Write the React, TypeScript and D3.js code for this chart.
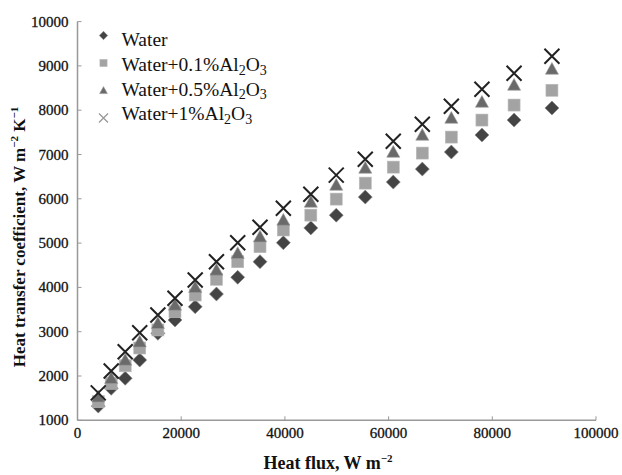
import React from "react";
import * as d3 from "d3";

const heatFlux = [4000, 6500, 9200, 12000, 15500, 18800, 22700, 26800, 30900, 35200, 39700, 45000, 49900, 55500, 60900, 66500, 72100, 78000, 84200, 91500];
const water = [1320, 1722, 1948, 2361, 2964, 3264, 3564, 3850, 4228, 4580, 5009, 5343, 5631, 6038, 6377, 6670, 7056, 7440, 7777, 8050];
const water01 = [1420, 1835, 2230, 2632, 3040, 3451, 3828, 4183, 4580, 4919, 5296, 5631, 5993, 6354, 6715, 7032, 7393, 7777, 8116, 8450];
const water05 = [1533, 1948, 2361, 2774, 3190, 3603, 4002, 4393, 4770, 5144, 5521, 5928, 6311, 6695, 7056, 7440, 7823, 8185, 8569, 8930];
const water1 = [1620, 2113, 2549, 2977, 3377, 3754, 4167, 4580, 5009, 5357, 5786, 6104, 6534, 6891, 7298, 7682, 8088, 8472, 8833, 9217];

const xTicks = [0, 20000, 40000, 60000, 80000, 100000];
const yTicks = [1000, 2000, 3000, 4000, 5000, 6000, 7000, 8000, 9000, 10000];

const W = 622, H = 475;
const M = { left: 77.5, right: 596, top: 18, bottom: 420.3 };
const FONT = "'Liberation Serif', 'Times New Roman', serif";

const x = d3.scaleLinear().domain([0, 100000]).range([M.left, M.right]);
const y = d3.scaleLinear().domain([1000, 10000]).range([M.bottom, M.bottom - 9 * 44.3]);

type Kind = "diamond" | "square" | "triangle" | "cross";

function Marker({ kind, cx, cy, s = 1 }: { kind: Kind; cx: number; cy: number; s?: number }) {
  if (kind === "diamond") {
    const r = 7 * s;
    return <path d={`M${cx},${cy - r}L${cx + r},${cy}L${cx},${cy + r}L${cx - r},${cy}Z`} fill="#444" stroke="#888" strokeWidth={0.6} />;
  }
  if (kind === "square") {
    const r = 6 * s;
    return <rect x={cx - r} y={cy - r} width={2 * r} height={2 * r} fill="#a3a3a3" stroke="#bbb" strokeWidth={0.6} />;
  }
  if (kind === "triangle") {
    const r = 6.5 * s;
    return <path d={`M${cx},${cy - r}L${cx + r},${cy + r * 0.8}L${cx - r},${cy + r * 0.8}Z`} fill="#6a6a6a" stroke="#999" strokeWidth={0.6} />;
  }
  const r = 7.5 * s;
  return (
    <path d={`M${cx - r},${cy - r}L${cx + r},${cy + r}M${cx - r},${cy + r}L${cx + r},${cy - r}`} stroke={s < 1 ? "#999" : "#222"} strokeWidth={s < 1 ? 1.3 : 2} fill="none" />
  );
}

const series: { name: string; kind: Kind; values: number[] }[] = [
  { name: "Water", kind: "diamond", values: water },
  { name: "Water+0.1%Al2O3", kind: "square", values: water01 },
  { name: "Water+0.5%Al2O3", kind: "triangle", values: water05 },
  { name: "Water+1%Al2O3", kind: "cross", values: water1 },
];

const legendTextY = [46, 71, 95.5, 120];
const legendMarkY = [35.5, 63, 90.5, 118];

function LegendLabel({ name, lx, ly }: { name: string; lx: number; ly: number }) {
  const m = name.match(/^(.*)Al2O3$/);
  const fs = 19.5;
  if (!m) return <text x={lx} y={ly} fontSize={fs} fontFamily={FONT} fill="#111">{name}</text>;
  return (
    <text x={lx} y={ly} fontSize={fs} fontFamily={FONT} fill="#111">
      {m[1]}Al<tspan fontSize={14} dy={3.5}>2</tspan><tspan dy={-3.5}>O</tspan><tspan fontSize={14} dy={3.5}>3</tspan>
    </text>
  );
}

export default function App() {
  return (
    <svg width={W} height={H} style={{ position: "absolute", left: 0, top: 0, background: "#fff" }}>
      {/* axes */}
      <line x1={M.left} x2={M.left} y1={y(10000)} y2={M.bottom} stroke="#999" strokeWidth={1.5} />
      <line x1={M.left} x2={x(100000)} y1={M.bottom} y2={M.bottom} stroke="#999" strokeWidth={1.5} />
      {yTicks.map((t) => (
        <g key={t}>
          <line x1={M.left} x2={M.left + 4} y1={y(t)} y2={y(t)} stroke="#999" strokeWidth={1} />
          <text x={M.left - 9} y={y(t) + 5} textAnchor="end" fontSize={15} fontFamily={FONT} fill="#111" stroke="#111" strokeWidth={0.3}>{t}</text>
        </g>
      ))}
      {xTicks.map((t) => (
        <g key={t}>
          <line x1={x(t)} x2={x(t)} y1={M.bottom} y2={M.bottom - 4} stroke="#999" strokeWidth={1} />
          <text x={x(t)} y={M.bottom + 18} textAnchor="middle" fontSize={15} fontFamily={FONT} fill="#111" stroke="#111" strokeWidth={0.3}>{t}</text>
        </g>
      ))}
      {/* data */}
      {series.map((s) => (
        <g key={s.name}>
          {s.values.map((v, i) => (
            <Marker key={i} kind={s.kind} cx={x(heatFlux[i])} cy={y(v)} />
          ))}
        </g>
      ))}
      {/* legend */}
      {series.map((s, i) => (
        <g key={s.name}>
          <Marker kind={s.kind} cx={103.5} cy={legendMarkY[i]} s={0.6} />
          <LegendLabel name={s.name} lx={121.5} ly={legendTextY[i]} />
        </g>
      ))}
      {/* axis titles */}
      <text x={328} y={469} textAnchor="middle" fontSize={18} fontWeight="bold" fontFamily={FONT} fill="#111">
        Heat flux, W m<tspan fontSize={11} dy={-7}>−2</tspan>
      </text>
      <text transform={`translate(25,${237}) rotate(-90)`} textAnchor="middle" fontSize={17} fontWeight="bold" fontFamily={FONT} fill="#111">
        Heat transfer coefficient, W m<tspan fontSize={11} dy={-7}>−2</tspan><tspan dy={7}> K</tspan><tspan fontSize={11} dy={-7}>−1</tspan>
      </text>
    </svg>
  );
}
